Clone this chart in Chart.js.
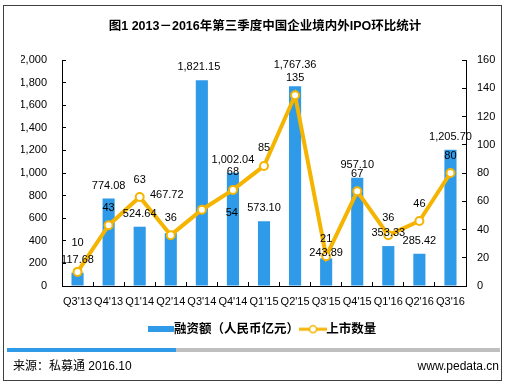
<!DOCTYPE html>
<html><head><meta charset="utf-8">
<script src="https://cdn.jsdelivr.net/npm/chart.js@4.4.0/dist/chart.umd.min.js"></script>
<style>html,body{margin:0;padding:0;background:#fff;}canvas{display:block;}</style>
</head><body>
<canvas id="c" width="509" height="386"></canvas>
<script>
// ---- data ----
const categories = ["Q3'13","Q4'13","Q1'14","Q2'14","Q3'14","Q4'14","Q1'15","Q2'15","Q3'15","Q4'15","Q1'16","Q2'16","Q3'16"];
const fundingValues = [117.68, 774.08, 524.64, 467.72, 1821.15, 1002.04, 573.10, 1767.36, 243.89, 957.10, 353.33, 285.42, 1205.70];
const ipoCounts = [10, 43, 63, 36, 54, 68, 85, 135, 21, 67, 36, 46, 80];
const leftAxisTicks = [0, 200, 400, 600, 800, 1000, 1200, 1400, 1600, 1800, 2000];
const rightAxisTicks = [0, 20, 40, 60, 80, 100, 120, 140, 160];
const seriesNames = ['融资额（人民币亿元）', '上市数量'];
const titleText = '图1 2013－2016年第三季度中国企业境内外IPO环比统计';
const sourceText = '来源：私募通 2016.10';
const siteText = 'www.pedata.cn';

// ---- style ----
const FONT = "'Liberation Sans', Arial, 'Noto Sans CJK SC', sans-serif";
const BLUE = '#2f9ae8';
const GOLD = '#f5b400';
// label nudges (style only): index -> [dx, dy]
const barLabelNudge = {3: [-4, -25], 4: [-3, 0], 7: [0, -8], 8: [0, 8]};
const lineLabelNudge = {0: [0, -11.5], 4: [30, 20.5]};

function makeBarIcon() {
  const c = document.createElement('canvas'); c.width = 26; c.height = 6;
  const g = c.getContext('2d'); g.fillStyle = BLUE; g.fillRect(0, 0, 26, 6); return c;
}
function makeLineIcon() {
  const c = document.createElement('canvas'); c.width = 28; c.height = 10;
  const g = c.getContext('2d');
  g.strokeStyle = GOLD; g.lineWidth = 3; g.beginPath(); g.moveTo(0, 5); g.lineTo(28, 5); g.stroke();
  g.fillStyle = '#fff'; g.lineWidth = 1.5; g.beginPath(); g.arc(14, 5, 3.5, 0, Math.PI * 2); g.fill(); g.stroke();
  return c;
}

const fmt2 = v => v.toLocaleString('en-US', {minimumFractionDigits: 2, maximumFractionDigits: 2});

const framePlugin = {
  id: 'frame',
  beforeDraw(chart) {
    const ctx = chart.ctx;
    ctx.save(); ctx.fillStyle = '#fff'; ctx.fillRect(0, 0, chart.width, chart.height); ctx.restore();
  },
  afterDraw(chart) {
    const ctx = chart.ctx;
    ctx.save();
    ctx.strokeStyle = '#404040'; ctx.lineWidth = 1;
    ctx.strokeRect(3.5, 5.5, 498, 375);
    ctx.fillStyle = BLUE; ctx.fillRect(7, 348, 169, 4);
    ctx.fillStyle = '#bfbfbf'; ctx.fillRect(176, 348, 324, 4);
    ctx.fillStyle = '#000'; ctx.font = '12px ' + FONT; ctx.textBaseline = 'middle';
    ctx.textAlign = 'left'; ctx.fillText(sourceText, 13, 367);
    ctx.textAlign = 'right'; ctx.fillText(siteText, 499, 367);
    ctx.restore();
  }
};

const labelPlugin = {
  id: 'valueLabels',
  afterDatasetsDraw(chart) {
    const ctx = chart.ctx;
    ctx.save();
    ctx.font = '11px ' + FONT; ctx.fillStyle = '#000';
    ctx.textAlign = 'center'; ctx.textBaseline = 'middle';
    chart.getDatasetMeta(0).data.forEach((el, i) => {
      const n = barLabelNudge[i] || [0, 0];
      ctx.fillText(fmt2(fundingValues[i]), el.x + n[0], el.y - 13 + n[1]);
    });
    chart.getDatasetMeta(1).data.forEach((el, i) => {
      const n = lineLabelNudge[i] || [0, 0];
      ctx.fillText(String(ipoCounts[i]), el.x + n[0], el.y - 17.5 + n[1]);
    });
    ctx.restore();
  }
};

new Chart(document.getElementById('c'), {
  type: 'bar',
  data: {
    labels: categories,
    datasets: [
      { type: 'bar', label: seriesNames[0], data: fundingValues, yAxisID: 'y', backgroundColor: BLUE,
        categoryPercentage: 1, barPercentage: 0.39, order: 2 },
      { type: 'line', label: seriesNames[1], data: ipoCounts, yAxisID: 'y1', borderColor: GOLD, borderWidth: 4,
        pointRadius: 4, pointBorderWidth: 2, pointBackgroundColor: '#fff', pointBorderColor: GOLD,
        tension: 0, order: 1 }
    ]
  },
  options: {
    responsive: false, animation: false, devicePixelRatio: 1,
    layout: { padding: { top: 0, left: 21, right: 0, bottom: 40.5 } },
    plugins: {
      title: { display: true, text: titleText, color: '#000',
        font: { family: FONT, size: 12.5, weight: 'bold' }, padding: { top: 19, bottom: 26 } },
      legend: { display: true, position: 'bottom',
        labels: {
          usePointStyle: true, pointStyleWidth: 14, padding: 7, color: '#000',
          font: { family: FONT, size: 12.5, weight: 'bold' },
          generateLabels: () => [
            { text: seriesNames[0], pointStyle: makeBarIcon(), fillStyle: BLUE, strokeStyle: BLUE, lineWidth: 0, hidden: false, datasetIndex: 0 },
            { text: seriesNames[1], pointStyle: makeLineIcon(), fillStyle: GOLD, strokeStyle: GOLD, lineWidth: 0, hidden: false, datasetIndex: 1 }
          ]
        }
      },
      tooltip: { enabled: false }
    },
    scales: {
      x: {
        grid: { display: true, drawOnChartArea: false, drawTicks: true, tickLength: -4, color: '#000', offset: true },
        border: { display: true, color: '#000', width: 1 },
        ticks: { autoSkip: false, maxRotation: 0, minRotation: 0, padding: 13, color: '#000', font: { family: FONT, size: 11 } },
        afterFit(s) { s.height = 30; }
      },
      y: {
        position: 'left', min: leftAxisTicks[0], max: leftAxisTicks[leftAxisTicks.length - 1],
        afterBuildTicks(s) { s.ticks = leftAxisTicks.map(v => ({ value: v })); },
        grid: { display: true, drawOnChartArea: false, drawTicks: true, tickLength: -4, color: '#000' },
        border: { display: true, color: '#000', width: 1 },
        ticks: { padding: 19, color: '#000', font: { family: FONT, size: 11 },
          callback: v => v.toLocaleString('en-US') },
        afterFit(s) { s.width = 41; }
      },
      y1: {
        position: 'right', min: rightAxisTicks[0], max: rightAxisTicks[rightAxisTicks.length - 1],
        afterBuildTicks(s) { s.ticks = rightAxisTicks.map(v => ({ value: v })); },
        grid: { display: true, drawOnChartArea: false, drawTicks: true, tickLength: -4, color: '#000' },
        border: { display: true, color: '#000', width: 1 },
        ticks: { padding: 15, color: '#000', font: { family: FONT, size: 11 } },
        afterFit(s) { s.width = 43; }
      }
    }
  },
  plugins: [framePlugin, labelPlugin]
});
</script>
</body></html>
